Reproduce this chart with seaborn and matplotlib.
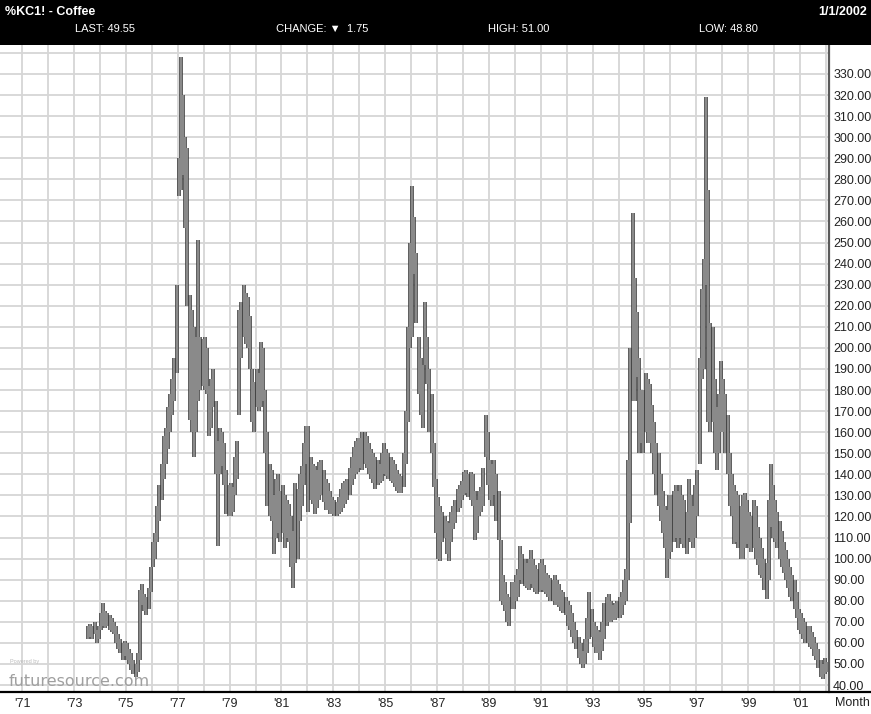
import matplotlib
matplotlib.use("Agg")
import matplotlib.pyplot as plt
import numpy as np
import pandas as pd
import seaborn as sns
from matplotlib.patches import Rectangle
from matplotlib.lines import Line2D
from matplotlib import font_manager

# monthly bars, coffee (KC) continuous, cents/lb, first bar = Jul 1973
first_month = "1973-07"

highs = [
    68, 69, 68, 70, 66, 68,                                      # 1973 Jul-Dec
    74, 79, 75, 74, 73, 72, 70, 68, 64, 62, 60, 61,              # 1974
    60, 57, 55, 52, 50, 55, 85, 88, 83, 82, 86, 96,              # 1975
    108, 112, 125, 135, 145, 158, 162, 172, 178, 185, 195, 230,  # 1976
    290, 338, 320, 300, 295, 225, 218, 210, 205, 251, 205, 204,  # 1977
    205, 200, 182, 185, 190, 175, 156, 162, 160, 155, 142, 135,  # 1978
    136, 134, 148, 156, 218, 222, 230, 226, 224, 215, 190, 184,  # 1979
    190, 188, 203, 200, 180, 160, 145, 142, 130, 138, 140, 132,  # 1980
    135, 130, 128, 126, 120, 113, 136, 133, 140, 144, 155, 163,  # 1981
    163, 148, 145, 144, 142, 146, 147, 142, 138, 136, 132, 129,  # 1982
    128, 127, 129, 133, 136, 137, 138, 143, 148, 153, 156, 157,  # 1983
    157, 160, 160, 158, 155, 152, 150, 148, 147, 145, 150, 155,  # 1984
    152, 150, 148, 147, 145, 142, 140, 139, 150, 170, 210, 250,  # 1985
    277, 262, 245, 205, 195, 192, 222, 205, 190, 178, 155, 138,  # 1986
    129, 125, 122, 120, 118, 117, 122, 125, 128, 133, 135, 137,  # 1987
    141, 142, 140, 141, 140, 132, 128, 132, 134, 143, 168, 160,  # 1988
    147, 145, 147, 140, 132, 109, 92, 89, 83, 82, 89, 89,        # 1989
    92, 95, 106, 102, 100, 98, 100, 104, 100, 97, 95, 98,        # 1990
    100, 97, 93, 92, 91, 90, 92, 90, 88, 85, 84, 82,             # 1991
    80, 78, 74, 70, 66, 63, 60, 56, 62, 72, 84, 76,              # 1992
    70, 68, 66, 65, 70, 79, 82, 83, 80, 78, 79, 80,              # 1993
    82, 84, 90, 95, 147, 200, 264, 233, 217, 195, 180, 180,      # 1994
    188, 185, 183, 173, 165, 155, 150, 140, 132, 125, 123, 130,  # 1995
    130, 132, 135, 132, 135, 130, 128, 122, 138, 130, 125, 135,  # 1996
    142, 195, 228, 242, 319, 275, 212, 210, 185, 172, 178, 194,  # 1997
    185, 178, 168, 150, 140, 135, 132, 130, 125, 130, 131, 128,  # 1998
    122, 120, 128, 125, 115, 110, 105, 100, 98, 128, 145, 135,   # 1999
    128, 122, 118, 113, 108, 104, 100, 96, 92, 90, 84, 76,       # 2000
    74, 72, 70, 68, 68, 65, 63, 60, 57, 52, 50, 53,              # 2001
    51,                                                          # 2002 Jan
]

lows = [
    62, 63, 62, 64, 60, 62,
    66, 68, 67, 68, 66, 65, 64, 60, 57, 55, 52, 54,
    52, 50, 47, 45, 44, 46, 52, 78, 75, 73, 76, 84,
    96, 100, 108, 118, 128, 138, 145, 152, 160, 168, 175, 188,
    272, 275, 282, 257, 220, 166, 160, 148, 160, 175, 180, 182,
    180, 178, 158, 162, 172, 140, 106, 140, 144, 135, 121, 120,
    120, 122, 130, 138, 168, 195, 205, 202, 200, 190, 165, 160,
    172, 170, 172, 175, 150, 125, 120, 118, 102, 110, 112, 108,
    112, 105, 110, 108, 96, 86, 98, 100, 118, 125, 135, 145,
    122, 128, 126, 121, 124, 128, 130, 127, 123, 123, 121, 121,
    120, 120, 121, 122, 124, 126, 128, 130, 135, 138, 140, 141,
    143, 142, 145, 143, 140, 138, 136, 133, 135, 136, 137, 140,
    139, 138, 137, 136, 134, 132, 131, 131, 134, 145, 165, 200,
    205, 235, 212, 178, 168, 162, 192, 183, 160, 150, 134, 112,
    100, 99, 108, 110, 102, 99, 108, 114, 117, 122, 124, 128,
    130, 131, 129, 128, 125, 109, 112, 120, 122, 125, 148, 135,
    128, 125, 130, 118, 109, 80, 78, 75, 70, 68, 76, 76,
    80, 82, 90, 88, 87, 86, 85, 88, 86, 84, 83, 84,
    85, 84, 83, 82, 80, 80, 78, 78, 77, 75, 74, 73,
    68, 66, 63, 60, 57, 53, 50, 48, 50, 55, 62, 63,
    58, 55, 55, 52, 56, 62, 68, 70, 70, 71, 71, 72,
    72, 73, 78, 80, 90, 117, 175, 175, 186, 150, 155, 150,
    160, 155, 155, 150, 140, 130, 125, 118, 112, 105, 91, 100,
    103, 108, 110, 105, 110, 107, 105, 102, 110, 108, 105, 110,
    120, 145, 185, 190, 230, 165, 160, 165, 150, 142, 150, 160,
    160, 150, 140, 125, 120, 107, 108, 105, 100, 100, 105, 107,
    105, 103, 105, 100, 97, 92, 91, 85, 81, 90, 115, 110,
    108, 105, 100, 96, 93, 90, 86, 82, 80, 76, 72, 66,
    64, 62, 60, 60, 58, 57, 54, 52, 48, 44, 43, 45,
    46,
]

grid_years = list(range(1971, 2003))
price_grid = list(range(40, 350, 10))

title = "%KC1! - Coffee"
date_text = "1/1/2002"
quote_items = [("LAST: 49.55", 105), ("CHANGE: \u25bc  1.75", 322),
               ("HIGH: 51.00", 519), ("LOW: 48.80", 728)]

# ---------------------------------------------------------------
sns.set_style("white")
plt.rcParams["font.family"] = ["Liberation Sans", "DejaVu Sans"]

W, H = 871, 714
fx = lambda px: px / W
fy = lambda py: 1 - py / H

dates = pd.date_range(first_month, periods=len(highs), freq="MS")
t = dates.year + (dates.month - 0.5) / 12.0
df = pd.DataFrame({
    "t": np.repeat(t, 2),
    "price": np.column_stack([lows, highs]).ravel(),
    "bar": np.repeat(np.arange(len(highs)), 2),
})

fig = plt.figure(figsize=(W / 100, H / 100), dpi=100)
ax = fig.add_axes([0, fy(692), fx(829), fy(45) - fy(692)])

# dark outline pass, then grey fill pass on top
sns.lineplot(data=df, x="t", y="price", units="bar", estimator=None,
             color="#3a3a3a", lw=2.6, ax=ax, legend=False,
             solid_capstyle="butt")
sns.lineplot(data=df, x="t", y="price", units="bar", estimator=None,
             color="#8a8a8a", lw=1.5, ax=ax, legend=False,
             solid_capstyle="butt")

ax.set_xlim(1970.146, 2002.117)
ax.set_ylim(36.68, 343.75)
ax.set_xlabel("")
ax.set_ylabel("")

ax.set_xticks(grid_years)
ax.set_xticklabels(["'%02d" % (y % 100) if y % 2 else "" for y in grid_years])
ax.set_yticks(price_grid)
ax.set_yticklabels(["%.2f" % p if p <= 330 else "" for p in price_grid])
ax.yaxis.tick_right()
ax.tick_params(axis="both", length=0, labelsize=9, labelcolor="#222222")
ax.tick_params(axis="y", pad=3)
ax.tick_params(axis="x", pad=4)
ax.grid(True, color="#d6d6d6", lw=1.3)
ax.set_axisbelow(True)

for s in ["left", "top", "bottom"]:
    ax.spines[s].set_visible(False)
ax.spines["right"].set_color("#5a5a5a")
ax.spines["right"].set_linewidth(1.6)

# bottom rule across the full width
fig.lines.append(Line2D([0, 1], [fy(692), fy(692)], transform=fig.transFigure,
                        color="black", lw=1.6))
fig.text(fx(835), fy(703), "Month", ha="left", va="center", fontsize=9,
         color="#222222")

# header band
fig.patches.append(Rectangle((0, fy(45)), 1, 1 - fy(45), transform=fig.transFigure,
                             facecolor="black", edgecolor="none"))
names = {f.name for f in font_manager.fontManager.ttflist}
narrow = [n for n in ["Liberation Sans Narrow", "DejaVu Sans Condensed"] if n in names]
hdr_font = narrow + ["Liberation Sans", "DejaVu Sans"]
title_size = 10.5 if narrow else 9.0
fig.text(fx(5), fy(12), title, ha="left", va="center", color="white",
         fontsize=title_size, fontweight="bold", family=hdr_font)
fig.text(fx(867), fy(12), date_text, ha="right", va="center", color="white",
         fontsize=title_size, fontweight="bold", family=hdr_font)
for txt, cx in quote_items:
    fig.text(fx(cx), fy(29), txt, ha="center", va="center", color="white",
             fontsize=8, family=["Liberation Sans", "DejaVu Sans"])

# watermark
ax.text(fx(10), fy(663), "Powered by", transform=fig.transFigure, fontsize=4,
        color="#bbbbbb", zorder=1)
ax.text(fx(9), fy(686), "futuresource.com", transform=fig.transFigure,
        fontsize=11.5, color="#a0a0a0", va="baseline", zorder=1,
        family="DejaVu Sans")

fig.savefig("out.png", dpi=100)
